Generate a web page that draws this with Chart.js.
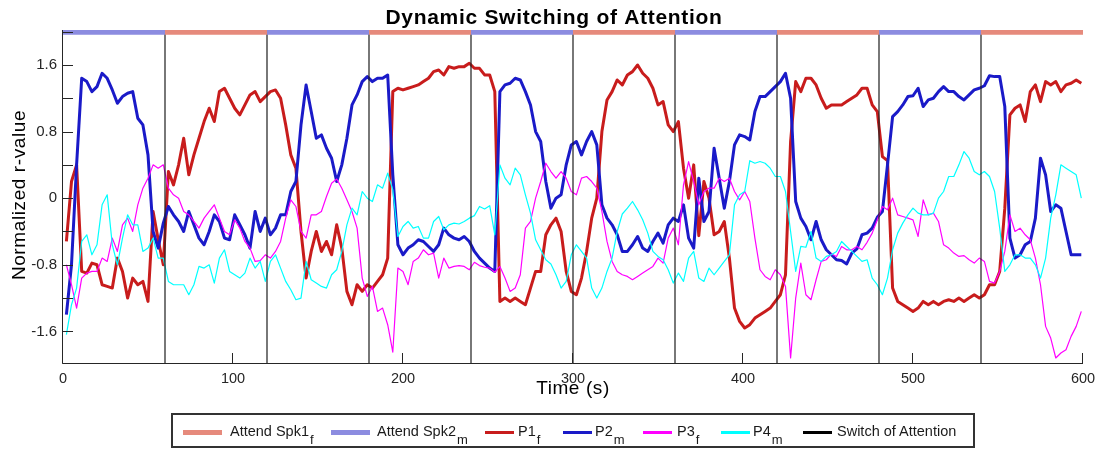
<!DOCTYPE html>
<html><head><meta charset="utf-8">
<script src="https://cdn.jsdelivr.net/npm/chart.js@4.4.1/dist/chart.umd.min.js"></script>
<style>
html,body{margin:0;padding:0;background:#fff;}
#wrap{position:relative;width:1103px;height:451px;overflow:hidden;font-family:"Liberation Sans",Arial,Helvetica,sans-serif;}
#chart{position:absolute;left:0;top:0;}
#legendBox{position:absolute;left:171px;top:413px;width:800px;height:31px;border:2px solid #333;}
.sw{position:absolute;}
.lt{position:absolute;font-size:14.5px;color:#1a1a1a;white-space:nowrap;line-height:16px;}
.lt sub{font-size:13px;vertical-align:-8px;line-height:0;margin-left:1px;}
</style></head><body>
<div id="wrap"><canvas id="chart" width="1103" height="451"></canvas><div id="legendBox"></div></div>
<script>
// ---------------- data ----------------
const times = [
2,5,8,11,14,17,20,23,26,29,32,35,38,41,44,47,50,53,56,59,62,65,68,71,74,77,80,83,86,89,92,95,98,
101,104,107,110,113,116,119,122,125,128,131,134,137,140,143,146,149,152,155,158,161,164,167,170,173,176,179,182,185,188,191,194,197,200,
203,206,209,212,215,218,221,224,227,230,233,236,239,242,245,248,251,254,257,260,263,266,269,272,275,278,281,284,287,290,293,296,299,
302,305,308,311,314,317,320,323,326,329,332,335,338,341,344,347,350,353,356,359,362,365,368,371,374,377,380,383,386,389,392,395,398,
401,404,407,410,413,416,419,422,425,428,431,434,437,440,443,446,449,452,455,458,461,464,467,470,473,476,479,482,485,488,491,494,497,
500,503,506,509,512,515,518,521,524,527,530,533,536,539,542,545,548,551,554,557,560,563,566,569,572,575,578,581,584,587,590,593,596,599];

const p1 = [
-0.52,0.2,0.4,-0.88,-0.9,-0.78,-0.8,-1.04,-1.06,-1.08,-0.72,-0.88,-1.2,-0.96,-1.04,-1.0,-1.24,-0.16,-0.5,-0.8,0.32,0.16,0.4,0.72,0.28,0.52,0.72,0.92,1.08,0.92,1.28,1.32,1.2,
1.08,1.0,1.12,1.24,1.28,1.16,1.22,1.28,1.3,1.2,0.88,0.52,0.36,-0.4,-0.96,-0.64,-0.4,-0.64,-0.52,-0.68,-0.32,-0.6,-1.12,-1.28,-1.04,-1.12,-1.04,-1.08,-1.0,-0.92,-0.72,1.28,1.32,1.3,
1.32,1.34,1.36,1.4,1.44,1.52,1.54,1.48,1.58,1.56,1.58,1.58,1.62,1.56,1.56,1.48,1.48,1.28,-1.24,-1.2,-1.24,-1.2,-1.24,-1.28,-1.08,-0.88,-0.88,-0.44,-0.32,-0.24,-0.4,-0.88,-1.12,
-1.16,-0.96,-0.64,-0.24,0.0,0.8,1.18,1.28,1.42,1.36,1.48,1.52,1.6,1.5,1.44,1.32,1.12,1.16,0.88,0.8,0.92,0.36,0.0,0.4,-0.45,0.2,0.0,-0.44,-0.4,-0.28,-0.72,-1.32,-1.48,
-1.56,-1.52,-1.44,-1.4,-1.36,-1.32,-1.24,-1.16,-0.92,0.68,1.4,1.28,1.44,1.44,1.36,1.2,1.08,1.12,1.12,1.12,1.16,1.2,1.24,1.32,1.32,1.12,1.04,0.5,0.45,-1.08,-1.24,-1.28,-1.32,
-1.36,-1.32,-1.24,-1.28,-1.24,-1.28,-1.24,-1.22,-1.24,-1.2,-1.24,-1.2,-1.16,-1.2,-1.16,-1.04,-1.04,-0.88,-0.12,1.0,1.08,1.12,0.92,1.28,1.36,1.16,1.4,1.36,1.4,1.28,1.36,1.38,1.42,1.38];

const p2 = [
-1.4,-0.8,0.4,1.44,1.4,1.28,1.34,1.5,1.44,1.3,1.14,1.22,1.26,1.28,0.96,0.88,0.52,-0.4,-0.6,-0.3,-0.1,-0.2,-0.28,-0.4,-0.16,-0.32,-0.48,-0.56,-0.4,-0.2,-0.28,-0.48,-0.5,
-0.2,-0.32,-0.44,-0.6,-0.16,-0.4,-0.24,-0.44,-0.36,-0.2,-0.2,0.08,0.2,0.88,1.36,1.04,0.72,0.76,0.6,0.48,0.2,0.4,0.72,1.12,1.24,1.4,1.46,1.4,1.44,1.44,1.48,0.28,-0.56,-0.68,
-0.6,-0.56,-0.5,-0.52,-0.58,-0.64,-0.56,-0.36,-0.44,-0.48,-0.5,-0.46,-0.52,-0.64,-0.72,-0.78,-0.84,-0.88,1.28,1.36,1.38,1.44,1.42,1.28,1.12,0.8,0.68,0.2,-0.12,0.0,0.04,0.4,0.64,
0.68,0.52,0.68,0.8,0.64,-0.08,-0.24,-0.32,-0.44,-0.64,-0.64,-0.56,-0.46,-0.6,-0.64,-0.52,-0.42,-0.54,-0.32,-0.24,-0.28,-0.08,-0.48,-0.6,0.24,-0.28,-0.16,0.6,0.24,-0.12,0.2,0.64,0.76,
0.74,0.7,1.04,1.22,1.22,1.28,1.34,1.4,1.5,1.2,-0.04,-0.24,-0.34,-0.5,-0.28,-0.5,-0.62,-0.68,-0.74,-0.75,-0.79,-0.66,-0.61,-0.44,-0.42,-0.36,-0.23,-0.16,0.4,0.98,1.04,1.12,1.22,
1.23,1.32,1.1,1.18,1.2,1.28,1.34,1.28,1.28,1.22,1.18,1.24,1.3,1.32,1.35,1.47,1.46,1.46,1.1,-0.48,-0.72,-0.68,-0.56,-0.52,-0.24,0.48,0.28,-0.16,-0.08,-0.12,-0.4,-0.68,-0.68,-0.68];

const p3 = [
-0.8,-1.04,-1.32,-0.96,-0.9,-0.88,-0.88,-0.72,-0.76,-0.48,-0.64,-0.32,-0.24,-0.4,-0.08,0.12,0.24,0.4,0.36,0.4,0.12,0.04,0.0,-0.16,-0.2,-0.28,-0.36,-0.24,-0.16,-0.08,-0.24,-0.4,-0.44,
-0.26,-0.36,-0.52,-0.6,-0.76,-0.75,-0.68,-0.72,-0.64,-0.52,-0.24,-0.02,-0.1,-0.4,-0.48,-0.2,-0.2,-0.16,0.02,0.18,0.23,0.12,-0.02,-0.16,-0.36,-0.96,-1.18,-1.06,-1.36,-1.32,-1.52,-1.85,-0.84,-0.88,
-1.04,-0.76,-0.72,-0.62,-0.68,-0.66,-0.96,-0.72,-0.84,-0.82,-0.81,-0.82,-0.86,-0.77,-0.81,-0.83,-0.84,-0.89,-0.82,-0.96,-1.12,-1.08,-0.92,-0.36,-0.28,0.0,0.2,0.42,0.32,0.24,0.32,0.24,0.08,
0.04,0.24,0.26,0.2,0.12,-0.16,-0.52,-0.76,-0.88,-0.92,-0.94,-0.98,-0.94,-0.9,-0.86,-0.82,-0.72,-0.78,-0.48,-0.36,-0.56,0.16,0.44,0.2,-0.08,0.08,0.12,0.12,0.24,0.2,0.24,0.08,-0.02,
0.08,-0.04,-0.48,-0.86,-0.94,-0.98,-0.86,-0.92,-1.06,-1.92,-1.2,-0.78,-1.16,-1.22,-0.98,-0.76,-0.74,-0.67,-0.7,-0.58,-0.62,-0.62,-0.58,-0.62,-0.53,-0.42,-0.26,-0.1,-0.14,0.0,-0.2,-0.22,-0.24,
-0.26,-0.46,-0.02,-0.2,-0.18,-0.28,-0.56,-0.6,-0.66,-0.7,-0.69,-0.74,-0.78,-0.72,-0.76,-1.0,-1.02,-0.88,-0.64,-0.2,-0.4,-0.36,-0.44,-0.5,-0.72,-1.04,-1.54,-1.68,-1.92,-1.86,-1.82,-1.66,-1.54,-1.36];

const p4 = [
-1.64,-1.28,-1.08,-0.52,-0.44,-0.68,-0.56,-0.08,0.04,-0.56,-0.8,-0.48,-0.2,-0.32,-0.32,-0.64,-0.6,-0.48,-0.72,-0.72,-1.0,-1.04,-1.04,-1.04,-1.16,-1.04,-0.82,-0.84,-0.8,-1.02,-0.72,-0.62,-0.88,
-0.92,-0.96,-0.9,-0.72,-0.84,-0.76,-1.0,-0.76,-0.68,-0.84,-1.0,-1.1,-1.22,-1.2,-0.76,-0.98,-1.02,-1.06,-1.08,-0.92,-0.86,-0.64,-0.32,-0.12,-0.2,0.08,0.0,-0.04,0.16,0.12,0.3,0.1,-0.46,-0.34,
-0.28,-0.36,-0.34,-0.48,-0.48,-0.28,-0.22,-0.38,-0.32,-0.3,-0.31,-0.28,-0.24,-0.21,-0.1,-0.13,-0.09,-0.44,0.4,0.24,0.16,0.36,0.28,0.04,-0.18,-0.5,-0.62,-0.74,-0.79,-0.92,-1.08,-1.0,-0.68,
-0.56,-0.64,-0.72,-1.08,-1.2,-1.08,-0.88,-0.72,-0.4,-0.19,-0.12,-0.04,-0.14,-0.26,-0.42,-0.64,-0.7,-0.74,-0.86,-1.02,-0.9,-1.0,-0.72,-0.64,-0.96,-1.0,-0.84,-0.92,-0.84,-0.76,-0.68,-0.08,0.04,
0.08,0.45,0.42,0.44,0.42,0.36,0.26,0.26,0.08,-0.4,-0.88,-0.58,-0.59,-0.4,-0.72,-0.76,-0.7,-0.68,-0.64,-0.52,-0.58,-0.64,-0.7,-0.76,-0.74,-0.96,-1.04,-1.16,-0.96,-0.62,-0.42,-0.3,-0.2,
-0.12,-0.18,-0.2,-0.2,-0.18,0.0,0.08,0.26,0.26,0.4,0.56,0.48,0.32,0.28,0.32,0.26,0.08,-0.36,-0.88,-0.8,-0.68,-0.68,-0.72,-0.72,-0.8,-0.96,-0.72,-0.24,0.04,0.4,0.36,0.32,0.28,0.0];

const attendSpk1Starts = [60,180,300,420,540];
const attendSpk2Starts = [0,120,240,360,480];
const blockLength = 60;
const switchTimes = [60,120,180,240,300,360,420,480,540];
const xTickValues = [0,100,200,300,400,500,600];
const yTickValues = [-1.6,-1.2,-0.8,-0.4,0,0.4,0.8,1.2,1.6,2.0];
const yTickLabels = ['-1.6','-0.8','0','0.8','1.6'];
const attendLevel = 2.0;
const yMin = -1.98, yMax = 2.02;
const xMin = 0, xMax = 600;

const titleText = 'Dynamic Switching of Attention';
const xTitleText = 'Time (s)';
const yTitleText = 'Normalized r-value';

// ---------------- styles ----------------
const FONT = '"Liberation Sans", Arial, Helvetica, sans-serif';
const colors = {
  spk1: '#e68a7c', spk2: '#8c8ce0',
  p1: '#c81c1c', p2: '#1a1ac8', p3: '#ff00ff', p4: '#00ffff', sw: '#1e1e1e'
};

// ---------------- build datasets ----------------
function series(vals){ return times.map((t,i)=>({x:t, y:vals[i]})); }
function blocks(starts){
  const out=[];
  starts.forEach(s=>{ out.push({x:s,y:attendLevel},{x:s+blockLength,y:attendLevel},{x:s+blockLength,y:null}); });
  return out;
}
function vlines(ts){
  const out=[];
  ts.forEach(s=>{ out.push({x:s,y:yMin},{x:s,y:yMax},{x:s,y:null}); });
  return out;
}

const datasets = [
  {label:'Attend Spk1', data:blocks(attendSpk1Starts), borderColor:colors.spk1, borderWidth:6, borderCapStyle:'butt', order:0},
  {label:'Attend Spk2', data:blocks(attendSpk2Starts), borderColor:colors.spk2, borderWidth:6, borderCapStyle:'butt', order:0},
  {label:'Switch of Attention', data:vlines(switchTimes), borderColor:colors.sw, borderWidth:1.2, order:1},
  {label:'P4', data:series(p4), borderColor:colors.p4, borderWidth:1.2, order:2},
  {label:'P3', data:series(p3), borderColor:colors.p3, borderWidth:1.2, order:3},
  {label:'P2', data:series(p2), borderColor:colors.p2, borderWidth:3, order:4},
  {label:'P1', data:series(p1), borderColor:colors.p1, borderWidth:3, order:5}
];
datasets.forEach(d=>{ d.fill=false; d.pointRadius=0; d.tension=0; d.spanGaps=false; d.borderJoinStyle='round'; });

const decor = {
  id:'decor',
  beforeDraw(chart){
    const c=chart.ctx; c.save(); c.fillStyle='#fff'; c.fillRect(0,0,chart.width,chart.height); c.restore();
  },
  afterDatasetsDraw(chart){
    const {ctx, chartArea:{left,right,top,bottom}, scales:{x,y}} = chart;
    ctx.save();
    ctx.strokeStyle='#262626'; ctx.lineWidth=1;
    ctx.beginPath();
    ctx.moveTo(left-0.5, top); ctx.lineTo(left-0.5, bottom+0.5);
    ctx.lineTo(right, bottom+0.5);
    ctx.stroke();
    ctx.beginPath();
    xTickValues.forEach(v=>{ const px=Math.round(x.getPixelForValue(v))-0.5; ctx.moveTo(px,bottom+0.5); ctx.lineTo(px,bottom-10); });
    yTickValues.forEach(v=>{ const py=Math.round(y.getPixelForValue(v))+0.5; ctx.moveTo(left-0.5,py); ctx.lineTo(left+10,py); });
    ctx.stroke();
    ctx.restore();
  },
  afterDraw(chart){
    const ctx=chart.ctx;
    ctx.save();
    ctx.fillStyle='#000';
    ctx.textAlign='center'; ctx.textBaseline='alphabetic';
    ctx.font='bold 21px '+FONT;
    try{ ctx.letterSpacing='0.7px'; }catch(e){}
    ctx.fillText(titleText, 554, 23.5);
    ctx.font='19px '+FONT;
    try{ ctx.letterSpacing='0.6px'; }catch(e){}
    ctx.fillText(xTitleText, 573, 394);
    ctx.translate(25, 195);
    ctx.rotate(-Math.PI/2);
    ctx.fillText(yTitleText, 0, 0);
    ctx.restore();
  }
};

new Chart(document.getElementById('chart'), {
  type:'line',
  data:{datasets},
  options:{
    responsive:false, animation:false, devicePixelRatio:1,
    layout:{padding:{top:30,right:20,bottom:0,left:0}},
    plugins:{legend:{display:false}, tooltip:{enabled:false}, title:{display:false}},
    scales:{
      x:{type:'linear', min:xMin, max:xMax,
         grid:{display:false, drawTicks:false}, border:{display:false},
         afterBuildTicks(s){ s.ticks = xTickValues.map(v=>({value:v})); },
         afterFit(s){ s.height = 88; },
         ticks:{padding:7, color:'#262626', font:{family:FONT, size:14.5}, callback:v=>String(v), maxRotation:0, autoSkip:false}},
      y:{type:'linear', min:yMin, max:yMax,
         grid:{display:false, drawTicks:false}, border:{display:false},
         afterBuildTicks(s){ s.ticks = yTickValues.map(v=>({value:v})); },
         afterFit(s){ s.width = 63; },
         ticks:{padding:6, color:'#262626', font:{family:FONT, size:15}, autoSkip:false,
           callback:v=>{ const lab = (Math.round(v*10)/10).toString(); return yTickLabels.includes(lab)?lab:''; }}}
    }
  },
  plugins:[decor]
});

// ---------------- HTML legend (subscripts) ----------------
const legendEntries = [
  {text:'Attend Spk1', sub:'f', color:colors.spk1, thick:5, swX:183, swW:39, txX:230},
  {text:'Attend Spk2', sub:'m', color:colors.spk2, thick:5, swX:331, swW:39, txX:377},
  {text:'P1', sub:'f', color:colors.p1, thick:3, swX:485, swW:29, txX:518},
  {text:'P2', sub:'m', color:colors.p2, thick:3, swX:563, swW:29, txX:595},
  {text:'P3', sub:'f', color:colors.p3, thick:3, swX:643, swW:29, txX:677},
  {text:'P4', sub:'m', color:colors.p4, thick:3, swX:721, swW:29, txX:753},
  {text:'Switch of Attention', sub:'', color:'#000', thick:3, swX:803, swW:29, txX:837}
];
const wrap=document.getElementById('wrap');
legendEntries.forEach(e=>{
  const sw=document.createElement('div'); sw.className='sw';
  sw.style.left=e.swX+'px'; sw.style.width=e.swW+'px'; sw.style.height=e.thick+'px';
  sw.style.top=(432.5-e.thick/2)+'px'; sw.style.background=e.color;
  wrap.appendChild(sw);
  const tx=document.createElement('div'); tx.className='lt';
  tx.style.left=e.txX+'px'; tx.style.top='423px';
  tx.appendChild(document.createTextNode(e.text));
  if(e.sub){ const s=document.createElement('sub'); s.textContent=e.sub; tx.appendChild(s); }
  wrap.appendChild(tx);
});
</script>
</body></html>
